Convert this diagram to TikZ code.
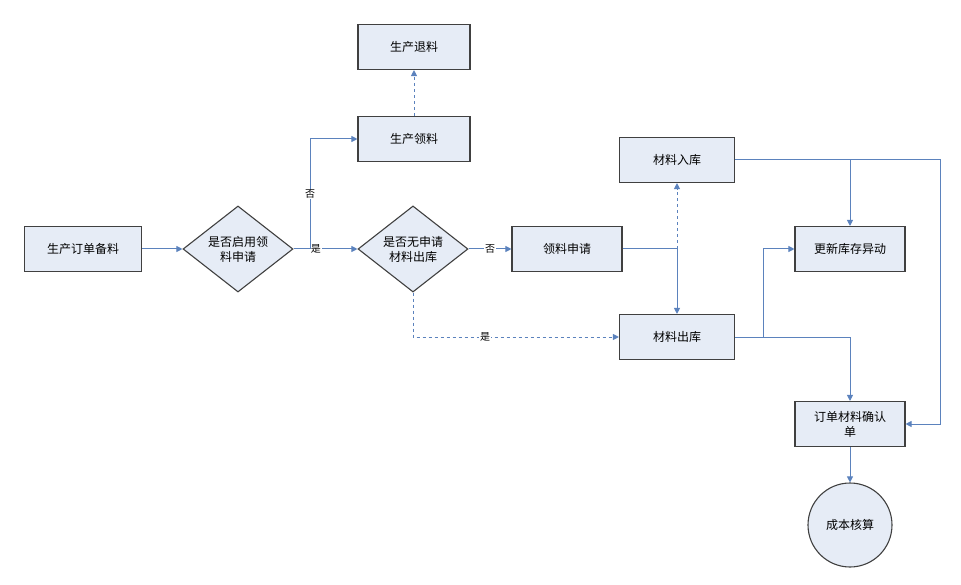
\documentclass[tikz,border=0pt]{standalone}
\usepackage{fontspec}
\setmainfont{Noto Sans CJK SC}
\usetikzlibrary{shapes.geometric,arrows.meta}
\definecolor{fillc}{HTML}{E6ECF6}
\definecolor{linec}{HTML}{5B82BD}
\tikzset{
 box/.style={draw=black!75,line width=1.1pt,fill=fillc,minimum width=112pt,minimum height=45pt,align=center,font=\fontsize{12}{15}\selectfont},
 dia/.style={draw=black!75,line width=1.1pt,fill=fillc,diamond,minimum width=110pt,minimum height=68pt,inner sep=0pt,align=center,font=\fontsize{12}{15}\selectfont},
 conn/.style={draw=linec,line width=1pt,-{Triangle[length=6pt,width=6pt]}},
 plain/.style={draw=linec,line width=1pt},
 lab/.style={fill=white,inner sep=1pt,font=\fontsize{10}{12}\selectfont},
}
\begin{document}
\begin{tikzpicture}[x=1pt,y=-1pt]
\useasboundingbox (0,0) rectangle (961,585);
\node[box,minimum width=117pt] (a) at (83,249) {生产订单备料};
\node[dia] (d1) at (238,249) {是否启用领\\料申请};
\node[box] (tl) at (414,47) {生产退料};
\node[box] (ll) at (414,139) {生产领料};
\node[dia] (d2) at (413,249) {是否无申请\\材料出库};
\node[box,minimum width=110pt] (sq) at (567,249) {领料申请};
\node[box,minimum width=115pt] (rk) at (677,160) {材料入库};
\node[box,minimum width=115pt] (ck) at (677,337) {材料出库};
\node[box,minimum width=110pt] (gx) at (850,249) {更新库存异动};
\node[box,minimum width=110pt] (qr) at (850,424) {订单材料确认\\单};
\node[circle,draw=black!75,line width=1.1pt,fill=fillc,minimum size=84pt,font=\fontsize{12}{15}\selectfont] (cb) at (850,525) {成本核算};
\coordinate (j1) at (310,249);
\coordinate (j2) at (677,249);
\coordinate (j3) at (940,160);
\coordinate (j4) at (763,337);

\draw[conn] (a) -- (d1);
\draw[conn] (d1) -- node[lab,pos=0.35]{是} (d2);
\draw[conn] (j1) -- node[lab]{否} (j1 |- ll) -- (ll);
\draw[conn,dashed] (ll) -- (tl);
\draw[conn] (d2) -- node[lab]{否} (sq);
\draw[conn,dashed] (d2.south) -- (d2.south |- ck) -- node[lab,pos=0.35]{是} (ck);
\draw[plain] (sq) -- (j2);
\draw[conn] (j2) -- (ck);
\draw[conn,dashed] (j2) -- (rk);
\draw[conn] (rk) -- (j3) -- (j3 |- qr) -- (qr);
\draw[conn] (rk -| gx) -- (gx);
\draw[conn] (ck) -- (ck -| qr) -- (qr);
\draw[conn] (j4) -- (j4 |- gx) -- (gx);
\draw[conn] (qr) -- (cb);
\end{tikzpicture}
\end{document}
